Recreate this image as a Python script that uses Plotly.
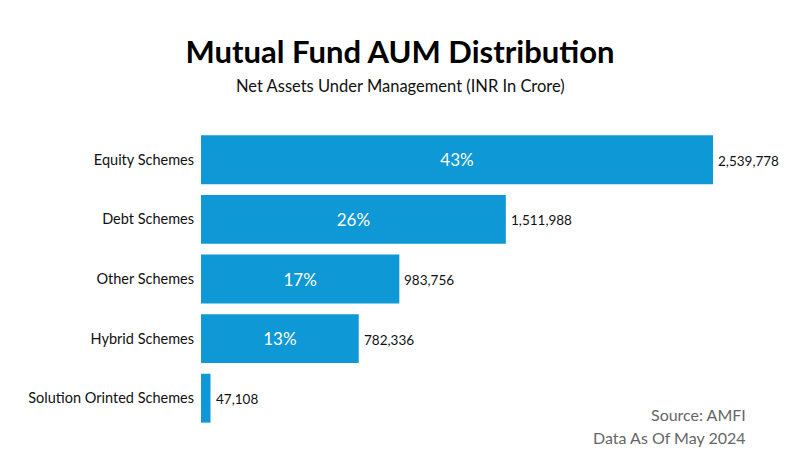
import plotly.graph_objects as go

categories = [
    "Equity Schemes",
    "Debt Schemes",
    "Other Schemes",
    "Hybrid Schemes",
    "Solution Orinted Schemes",
]
aum = [2539778, 1511988, 983756, 782336, 47108]
share_labels = ["43%", "26%", "17%", "13%", ""]

BLUE = "#0e98d5"
FONT = "Lato"

# the page body adds an 8px margin, so the figure is drawn 8px smaller
W, H = 792, 456
L, R, T, B = 193, 20, 122, 36

def px_x(px):
    return (px - L) / (W - L - R)

def px_y(py):
    return (H - B - py) / (H - T - B)

fig = go.Figure()

fig.add_trace(
    go.Bar(
        x=aum,
        y=categories,
        orientation="h",
        marker=dict(color=BLUE, line=dict(width=0)),
        text=share_labels,
        textposition="inside",
        insidetextanchor="middle",
        textfont=dict(color="white", size=17, family=FONT),
        hoverinfo="skip",
    )
)

for cat, val in zip(categories, aum):
    fig.add_annotation(
        x=val,
        y=cat,
        text=f"{val:,}",
        showarrow=False,
        xanchor="left",
        xshift=3,
        yshift=-1,
        font=dict(size=13.5, color="#111111", family=FONT),
    )

fig.add_annotation(
    x=px_x(392), xref="paper", y=px_y(78), yref="paper",
    text="Net Assets Under Management (INR In Crore)",
    showarrow=False, xanchor="center", yanchor="middle",
    font=dict(size=16.5, family=FONT, color="#111111"),
)
fig.add_annotation(
    x=px_x(740), xref="paper", y=px_y(406), yref="paper",
    text="Source: AMFI",
    showarrow=False, xanchor="right", yanchor="middle",
    font=dict(size=16, family=FONT, color="#666666"),
)
fig.add_annotation(
    x=px_x(740), xref="paper", y=px_y(429), yref="paper",
    text="Data As Of May 2024",
    showarrow=False, xanchor="right", yanchor="middle",
    font=dict(size=16, family=FONT, color="#666666"),
)

fig.update_layout(
    width=W,
    height=H,
    margin=dict(l=L, r=R, t=T, b=B),
    paper_bgcolor="white",
    plot_bgcolor="white",
    font=dict(family=FONT, color="#111111"),
    showlegend=False,
    bargap=0.18,
    title=dict(
        text="<b>Mutual Fund AUM Distribution</b>",
        x=392 / W,
        xanchor="center",
        y=1 - 44 / H,
        yanchor="middle",
        font=dict(size=31, family=FONT, color="black"),
    ),
    xaxis=dict(
        range=[0, 2872000],
        visible=False,
        fixedrange=True,
    ),
    yaxis=dict(
        autorange="reversed",
        showgrid=False,
        showline=False,
        ticks="",
        ticklabelstandoff=6,
        tickfont=dict(size=14.5, family=FONT, color="#111111"),
        fixedrange=True,
    ),
)

fig.write_html("out.html")
